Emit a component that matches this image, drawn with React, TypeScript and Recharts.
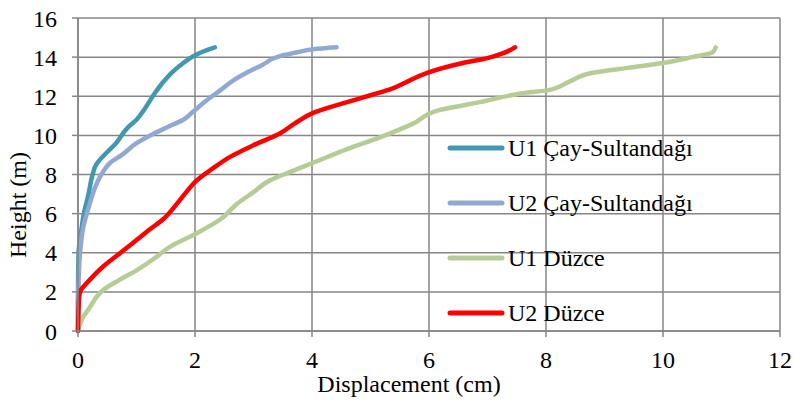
import React from "react";
import { CartesianGrid, Legend, Line, LineChart, XAxis, YAxis } from "recharts";

const FONT = "'Liberation Serif', 'Times New Roman', serif";
const GRID = "#868686";

// displacement (cm) / height (m) readings per wall
const u1CayDisp = [0, 0, 0.01, 0.05, 0.1, 0.18, 0.25, 0.31, 0.45, 0.65, 0.85, 1.0, 1.15, 1.3, 1.45, 1.6, 1.8, 1.97, 2.15, 2.34];
const u1CayHeight = [0, 2, 4, 5, 6, 7, 8, 8.5, 9, 9.6, 10.4, 10.8, 11.4, 12.1, 12.7, 13.2, 13.7, 14.05, 14.3, 14.5];

const u2CayDisp = [0, 0, 0.01, 0.03, 0.09, 0.2, 0.3, 0.42, 0.55, 0.75, 1.0, 1.3, 1.55, 1.8, 2.0, 2.2, 2.43, 2.65, 2.88, 3.15, 3.45, 3.75, 4.02, 4.42];
const u2CayHeight = [0, 1.5, 2.6, 3.8, 5.3, 6.5, 7.4, 8.1, 8.6, 9.0, 9.6, 10.1, 10.45, 10.8, 11.3, 11.8, 12.3, 12.8, 13.2, 13.6, 14.05, 14.25, 14.4, 14.5];

const u1DuzceDisp = [0, 0.09, 0.2, 0.32, 0.43, 0.7, 1.0, 1.3, 1.57, 2.03, 2.43, 2.72, 3.0, 3.28, 3.6, 4.02, 4.6, 5.16, 5.73, 6.19, 6.87, 7.73, 8.02, 8.4, 8.8, 9.4, 10.0, 10.5, 10.85, 10.9];
const u1DuzceHeight = [0, 0.73, 1.2, 1.75, 2.1, 2.6, 3.1, 3.7, 4.3, 5.0, 5.7, 6.5, 7.1, 7.7, 8.1, 8.6, 9.3, 9.9, 10.6, 11.3, 11.7, 12.2, 12.3, 12.75, 13.2, 13.45, 13.7, 14.0, 14.25, 14.5];

const u2DuzceDisp = [0, 0.02, 0.05, 0.15, 0.43, 0.77, 1.0, 1.23, 1.45, 1.69, 1.85, 2.03, 2.3, 2.6, 3.0, 3.45, 3.7, 4.02, 4.6, 5.0, 5.38, 5.6, 5.97, 6.58, 7.0, 7.27, 7.47];
const u2DuzceHeight = [0, 1.75, 2.1, 2.45, 3.3, 4.1, 4.65, 5.2, 5.7, 6.5, 7.1, 7.7, 8.3, 8.9, 9.5, 10.1, 10.6, 11.15, 11.7, 12.05, 12.4, 12.7, 13.2, 13.7, 13.95, 14.2, 14.5];

const xTicks = [0, 2, 4, 6, 8, 10, 12];
const yTicks = [0, 2, 4, 6, 8, 10, 12, 14, 16];

const toPoints = (disp: number[], height: number[]) => disp.map((d, i) => ({ d, h: height[i] }));

const series = [
  { name: "U1 Çay-Sultandağı", color: "#4198AF", data: toPoints(u1CayDisp, u1CayHeight) },
  { name: "U2 Çay-Sultandağı", color: "#8FA9D2", data: toPoints(u2CayDisp, u2CayHeight) },
  { name: "U1 Düzce", color: "#B5CC95", data: toPoints(u1DuzceDisp, u1DuzceHeight) },
  { name: "U2 Düzce", color: "#FF0000", data: toPoints(u2DuzceDisp, u2DuzceHeight) },
];

const tickStyle = { fontSize: 24, fill: "#000", fontFamily: FONT };

// keep the series order (recharts sorts payload by name otherwise)
function renderLegend() {
  return (
    <div style={{ fontFamily: FONT, fontSize: 24, color: "#000" }}>
      {series.map((s) => (
        <div key={s.name} style={{ height: 55, display: "flex", alignItems: "center" }}>
          <svg width={58} height={8}>
            <line x1={3} y1={4} x2={55} y2={4} stroke={s.color} strokeWidth={5} strokeLinecap="round" />
          </svg>
          <span style={{ marginLeft: 3, lineHeight: "24px", whiteSpace: "nowrap" }}>{s.name}</span>
        </div>
      ))}
    </div>
  );
}

const renderXLabel = () => (
  <text x={409} y={392} textAnchor="middle" fontSize={24} fontFamily={FONT} fill="#000">
    Displacement (cm)
  </text>
);

const renderYLabel = () => (
  <text x={26} y={205} transform="rotate(-90, 26, 205)" textAnchor="middle" fontSize={24} fontFamily={FONT} fill="#000">
    Height (m)
  </text>
);

export default function App() {
  return (
    <div style={{ position: "absolute", left: 0, top: 0, width: 794, height: 402, background: "#fff" }}>
      <LineChart width={794} height={402} margin={{ top: 18, right: 14, left: 0, bottom: 0 }}>
        <CartesianGrid stroke={GRID} strokeWidth={1.5} />
        <XAxis
          type="number"
          dataKey="d"
          domain={[0, 12]}
          ticks={xTicks}
          interval={0}
          height={71}
          stroke={GRID}
          axisLine={{ stroke: GRID, strokeWidth: 1.5 }}
          tickLine={{ stroke: GRID, strokeWidth: 1.5 }}
          tickSize={6}
          tickMargin={14}
          tick={tickStyle}
          label={renderXLabel}
        />
        <YAxis
          type="number"
          dataKey="h"
          domain={[0, 16]}
          ticks={yTicks}
          interval={0}
          width={78}
          stroke={GRID}
          axisLine={{ stroke: GRID, strokeWidth: 1.5 }}
          tickLine={{ stroke: GRID, strokeWidth: 1.5 }}
          tickSize={6}
          tickMargin={15}
          tick={tickStyle}
          label={renderYLabel}
        />
        <Legend
          layout="vertical"
          align="center"
          verticalAlign="middle"
          content={renderLegend}
          wrapperStyle={{ left: 447, top: 120, width: 300 }}
        />
        {series.map((s) => (
          <Line
            key={s.name}
            name={s.name}
            data={s.data}
            dataKey="h"
            type="monotoneY"
            stroke={s.color}
            strokeWidth={4.5}
            strokeLinecap="round"
            strokeLinejoin="round"
            dot={false}
            activeDot={false}
            isAnimationActive={false}
          />
        ))}
      </LineChart>
    </div>
  );
}
